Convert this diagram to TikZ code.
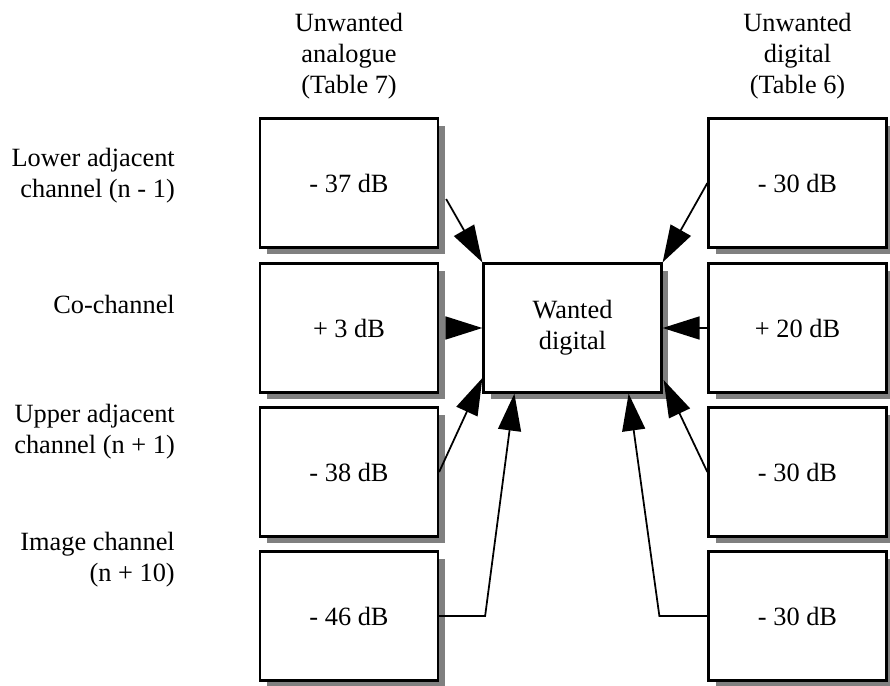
\documentclass[tikz,border=0pt]{standalone}
\usepackage{fontspec}
\setmainfont{Liberation Serif}
\usetikzlibrary{calc,shadows,arrows.meta}

\begin{document}
\begin{tikzpicture}[x=0.02cm,y=-0.02cm,
		font=\fontsize{15}{17.8}\selectfont,
		level/.style={draw, line width=1.3pt, fill=white, minimum width=3.56cm, minimum height=2.58cm,
			drop shadow={shadow xshift=0.14cm, shadow yshift=-0.14cm, fill=black!50, opacity=1}},
		feed/.style={line width=1pt, -{Triangle[length=0.74cm, width=0.46cm]}},
		side/.style={anchor=east, align=right},
		head/.style={align=center}]
		\useasboundingbox (0,0) rectangle (890,686);
		% column headings
		\node[head] (hA) at (349,56) {Unwanted\\analogue\\(Table 7)};
		\node[head] (hD) at (797.5,56) {Unwanted\\digital\\(Table 6)};
		% row labels
		\node[side] (s1) at (181,176) {Lower adjacent\\channel (n - 1)};
		\node[side] (s2) at (181,304) {Co-channel};
		\node[side] (s3) at (181,432) {Upper adjacent\\channel (n + 1)};
		\node[side] (s4) at (181,560) {Image channel\\(n + 10)};
		% unwanted analogue
		\node[level] (lA1) at (349,183) {- 37 dB};
		\node[level] (lA2) at (349,328) {+ 3 dB};
		\node[level] (lA3) at (349,472) {- 38 dB};
		\node[level] (lA4) at (349,616) {- 46 dB};
		% unwanted digital
		\node[level] (rD1) at (797.5,183) {- 30 dB};
		\node[level] (rD2) at (797.5,328) {+ 20 dB};
		\node[level] (rD3) at (797.5,472) {- 30 dB};
		\node[level] (rD4) at (797.5,616) {- 30 dB};
		% wanted
		\node[level, align=center] (wanted) at (572.5,328) {Wanted\\digital};
		% arrows
		\draw[feed] ($(lA1.east)+(7,16)$) -- (wanted.north west);
		\draw[feed] ($(lA2.east)+(7,0)$) -- (wanted.west);
		\draw[feed] (lA3.east) -- ($(wanted.west)+(0,50)$);
		\draw[feed] (lA4.east) -- ++(46,0) -- ($(wanted.south west)+(32,0)$);
		\draw[feed] (rD1.west) -- (wanted.north east);
		\draw[feed] ($(rD2.west)+(2,0)$) -- (wanted.east);
		\draw[feed] (rD3.west) -- ($(wanted.east)+(1,52)$);
		\draw[feed] (rD4.west) -- ++(-48,0) -- ($(wanted.south east)+(-34,0)$);
	\end{tikzpicture}
\end{document}
